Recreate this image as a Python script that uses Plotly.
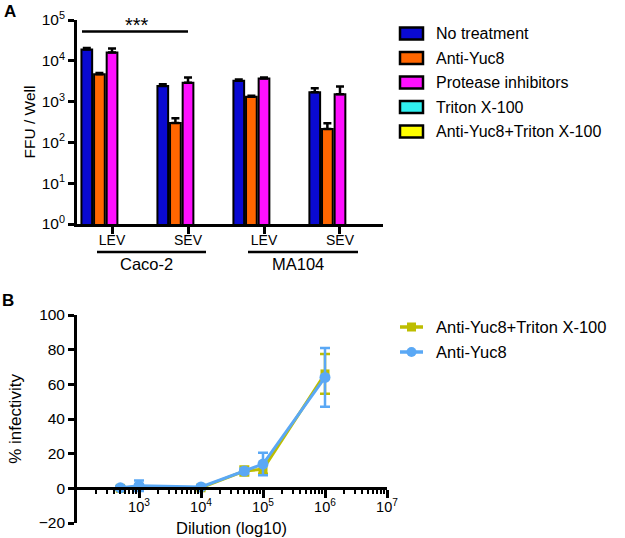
import plotly.graph_objects as go

W, H = 625, 538
FONT = "Liberation Sans, Arial, sans-serif"

# ---------------- Panel A data ----------------
groups = [0, 1, 2, 3]
group_labels = ["LEV", "SEV", "LEV", "SEV"]
cell_lines = ["Caco-2", "MA104"]
series_names = ["No treatment", "Anti-Yuc8", "Protease inhibitors", "Triton X-100", "Anti-Yuc8+Triton X-100"]
series_colors = ["#0A0AD2", "#FF6600", "#FF10FF", "#30F0F0", "#FFFF00"]
no_treatment = [19000, 2400, 3250, 1700]
no_treatment_err = [1500, 250, 250, 430]
anti_yuc8 = [4700, 300, 1320, 213]
anti_yuc8_err = [300, 90, 80, 80]
protease_inh = [16000, 2900, 3700, 1510]
protease_inh_err = [4000, 1000, 200, 820]
triton = [None, None, None, None]
anti_yuc8_triton = [None, None, None, None]
a_yticks = [1, 10, 100, 1000, 10000, 100000]
a_yticktext = ["10<sup>0</sup>", "10<sup>1</sup>", "10<sup>2</sup>", "10<sup>3</sup>", "10<sup>4</sup>", "10<sup>5</sup>"]

# ---------------- Panel B data ----------------
dilution = [500, 1000, 10000, 50000, 100000, 1000000]
b_triton = [0.0, 0.5, 0.3, 10.0, 11.0, 66.0]
b_triton_err = [1.0, 1.0, 0.8, 2.6, 2.6, 11.5]
b_yuc8 = [0.3, 1.5, 0.8, 10.0, 14.0, 64.0]
b_yuc8_err = [1.0, 3.0, 1.0, 1.5, 6.5, 17.0]
b_names = ["Anti-Yuc8+Triton X-100", "Anti-Yuc8"]
b_colors = ["#BDBD00", "#5AA8F5"]
b_xticks = [1e3, 1e4, 1e5, 1e6, 1e7]
b_xticktext = ["10<sup>3</sup>", "10<sup>4</sup>", "10<sup>5</sup>", "10<sup>6</sup>", "10<sup>7</sup>"]
b_yticks = [-20, 0, 20, 40, 60, 80, 100]


def X(px):
    return px / W


def Y(py):
    return 1 - py / H


fig = go.Figure()

a_vals = [no_treatment, anti_yuc8, protease_inh, triton, anti_yuc8_triton]
a_errs = [no_treatment_err, anti_yuc8_err, protease_inh_err, None, None]
for name, col, vals, err in zip(series_names, series_colors, a_vals, a_errs):
    kw = {}
    if err is not None:
        kw["error_y"] = dict(type="data", array=err, arrayminus=[0] * len(err), symmetric=False,
                             color="black", thickness=2.5, width=4)
    fig.add_trace(go.Bar(x=groups, y=vals, name=name, marker=dict(color=col, line=dict(color="black", width=2)),
                         xaxis="x", yaxis="y", showlegend=False, **kw))

b_vals = [b_triton, b_yuc8]
b_errs = [b_triton_err, b_yuc8_err]
b_symbols = ["square", "circle"]
b_msize = [9, 11]
for name, col, vals, err, sym, ms in zip(b_names, b_colors, b_vals, b_errs, b_symbols, b_msize):
    fig.add_trace(go.Scatter(x=dilution, y=vals, name=name, mode="lines+markers",
                             line=dict(color=col, width=3), marker=dict(symbol=sym, size=ms, color=col),
                             error_y=dict(type="data", array=err, color=col, thickness=2.5, width=5),
                             xaxis="x2", yaxis="y2", showlegend=False, cliponaxis=False))

axis_common = dict(showline=True, linecolor="black", linewidth=2.8, ticks="outside", tickcolor="black",
                   tickwidth=2.5, showgrid=False, zeroline=False, automargin=False)

fig.update_layout(
    width=W, height=H, margin=dict(l=0, r=0, t=0, b=0),
    paper_bgcolor="white", plot_bgcolor="white",
    font=dict(family=FONT, color="black", size=14),
    barmode="group", bargap=0.17, bargroupgap=0.15,
    xaxis=dict(domain=[X(77), X(383)], range=[-0.461, 3.566], tickmode="array", tickvals=groups,
               ticktext=group_labels, ticklen=7, tickfont=dict(size=14), anchor="y",
               ticklabelstandoff=-6, **axis_common),
    yaxis=dict(domain=[Y(224), Y(20)], type="log", range=[0, 5], tickmode="array", tickvals=a_yticks,
               ticktext=a_yticktext, ticklen=6, tickfont=dict(size=15.5), anchor="x",
               title=dict(text="FFU / Well", font=dict(size=15.5), standoff=3), **axis_common),
    xaxis2=dict(domain=[X(77), X(387)], type="log", range=[2, 7], tickmode="array", tickvals=b_xticks,
                ticktext=b_xticktext, ticklen=8, tickfont=dict(size=14.5), anchor="free", position=Y(488),
                ticklabelstandoff=-3,
                minor=dict(ticks="outside", ticklen=4, tickwidth=2, tickcolor="black", tickmode="array",
                           tickvals=[m * 10 ** e for e in range(2, 7) for m in range(2, 10)]),
                **axis_common),
    yaxis2=dict(domain=[Y(523), Y(315)], range=[-20, 100], tickmode="array", tickvals=b_yticks,
                ticklen=6, tickfont=dict(size=15.5), anchor="x2",
                title=dict(text="% infectivity", font=dict(size=17), standoff=13), **axis_common),
)

shapes = []
annotations = []

# significance bar
shapes.append(dict(type="line", xref="paper", yref="paper", x0=X(82), x1=X(188), y0=Y(31.5), y1=Y(31.5),
                   line=dict(color="black", width=2.5)))
annotations.append(dict(text="***", xref="paper", yref="paper", x=X(137), y=Y(25), showarrow=False,
                        font=dict(size=20), xanchor="center", yanchor="middle"))

# cell line brackets
for label, (x0, x1) in zip(cell_lines, [(97, 206), (248, 358)]):
    shapes.append(dict(type="line", xref="paper", yref="paper", x0=X(x0), x1=X(x1), y0=Y(252), y1=Y(252),
                       line=dict(color="black", width=2.5)))
    annotations.append(dict(text=label, xref="paper", yref="paper", x=X((x0 + x1) / 2 - 5), y=Y(264),
                            showarrow=False, font=dict(size=16.5), xanchor="center", yanchor="middle"))

# panel labels
annotations.append(dict(text="<b>A</b>", xref="paper", yref="paper", x=X(2), y=Y(12), showarrow=False,
                        font=dict(size=17, family="Liberation Sans, Arial"), xanchor="left", yanchor="middle"))
annotations.append(dict(text="<b>B</b>", xref="paper", yref="paper", x=X(0), y=Y(300), showarrow=False,
                        font=dict(size=17, family="Liberation Sans, Arial"), xanchor="left", yanchor="middle"))

# panel B x title
annotations.append(dict(text="Dilution (log10)", xref="paper", yref="paper", x=X(232), y=Y(527.5),
                        showarrow=False, font=dict(size=16.5), xanchor="center", yanchor="middle"))

# legend A
for i, (name, col) in enumerate(zip(series_names, series_colors)):
    cy = 33.5 + i * 24.5
    shapes.append(dict(type="rect", xref="paper", yref="paper", x0=X(400), x1=X(423), y0=Y(cy - 6),
                       y1=Y(cy + 6), fillcolor=col, line=dict(color="black", width=2.5)))
    annotations.append(dict(text=name, xref="paper", yref="paper", x=X(434), y=Y(cy), showarrow=False,
                            font=dict(size=16), xanchor="left", yanchor="middle"))

# legend B
for i, (name, col, sym) in enumerate(zip(b_names, b_colors, b_symbols)):
    cy = 327 + i * 25
    shapes.append(dict(type="line", xref="paper", yref="paper", x0=X(400), x1=X(423), y0=Y(cy), y1=Y(cy),
                       line=dict(color=col, width=3.5)))
    if sym == "square":
        shapes.append(dict(type="rect", xref="paper", yref="paper", x0=X(407), x1=X(416), y0=Y(cy - 4.5),
                           y1=Y(cy + 4.5), fillcolor=col, line=dict(width=0)))
    else:
        shapes.append(dict(type="circle", xref="paper", yref="paper", x0=X(406.5), x1=X(416.5), y0=Y(cy - 5),
                           y1=Y(cy + 5), fillcolor=col, line=dict(width=0)))
    annotations.append(dict(text=name, xref="paper", yref="paper", x=X(434), y=Y(cy), showarrow=False,
                            font=dict(size=16.5), xanchor="left", yanchor="middle"))

fig.update_layout(shapes=shapes, annotations=annotations)
fig.write_html("out.html", config={"displayModeBar": False},
               post_script="document.body.style.margin='0px';")
